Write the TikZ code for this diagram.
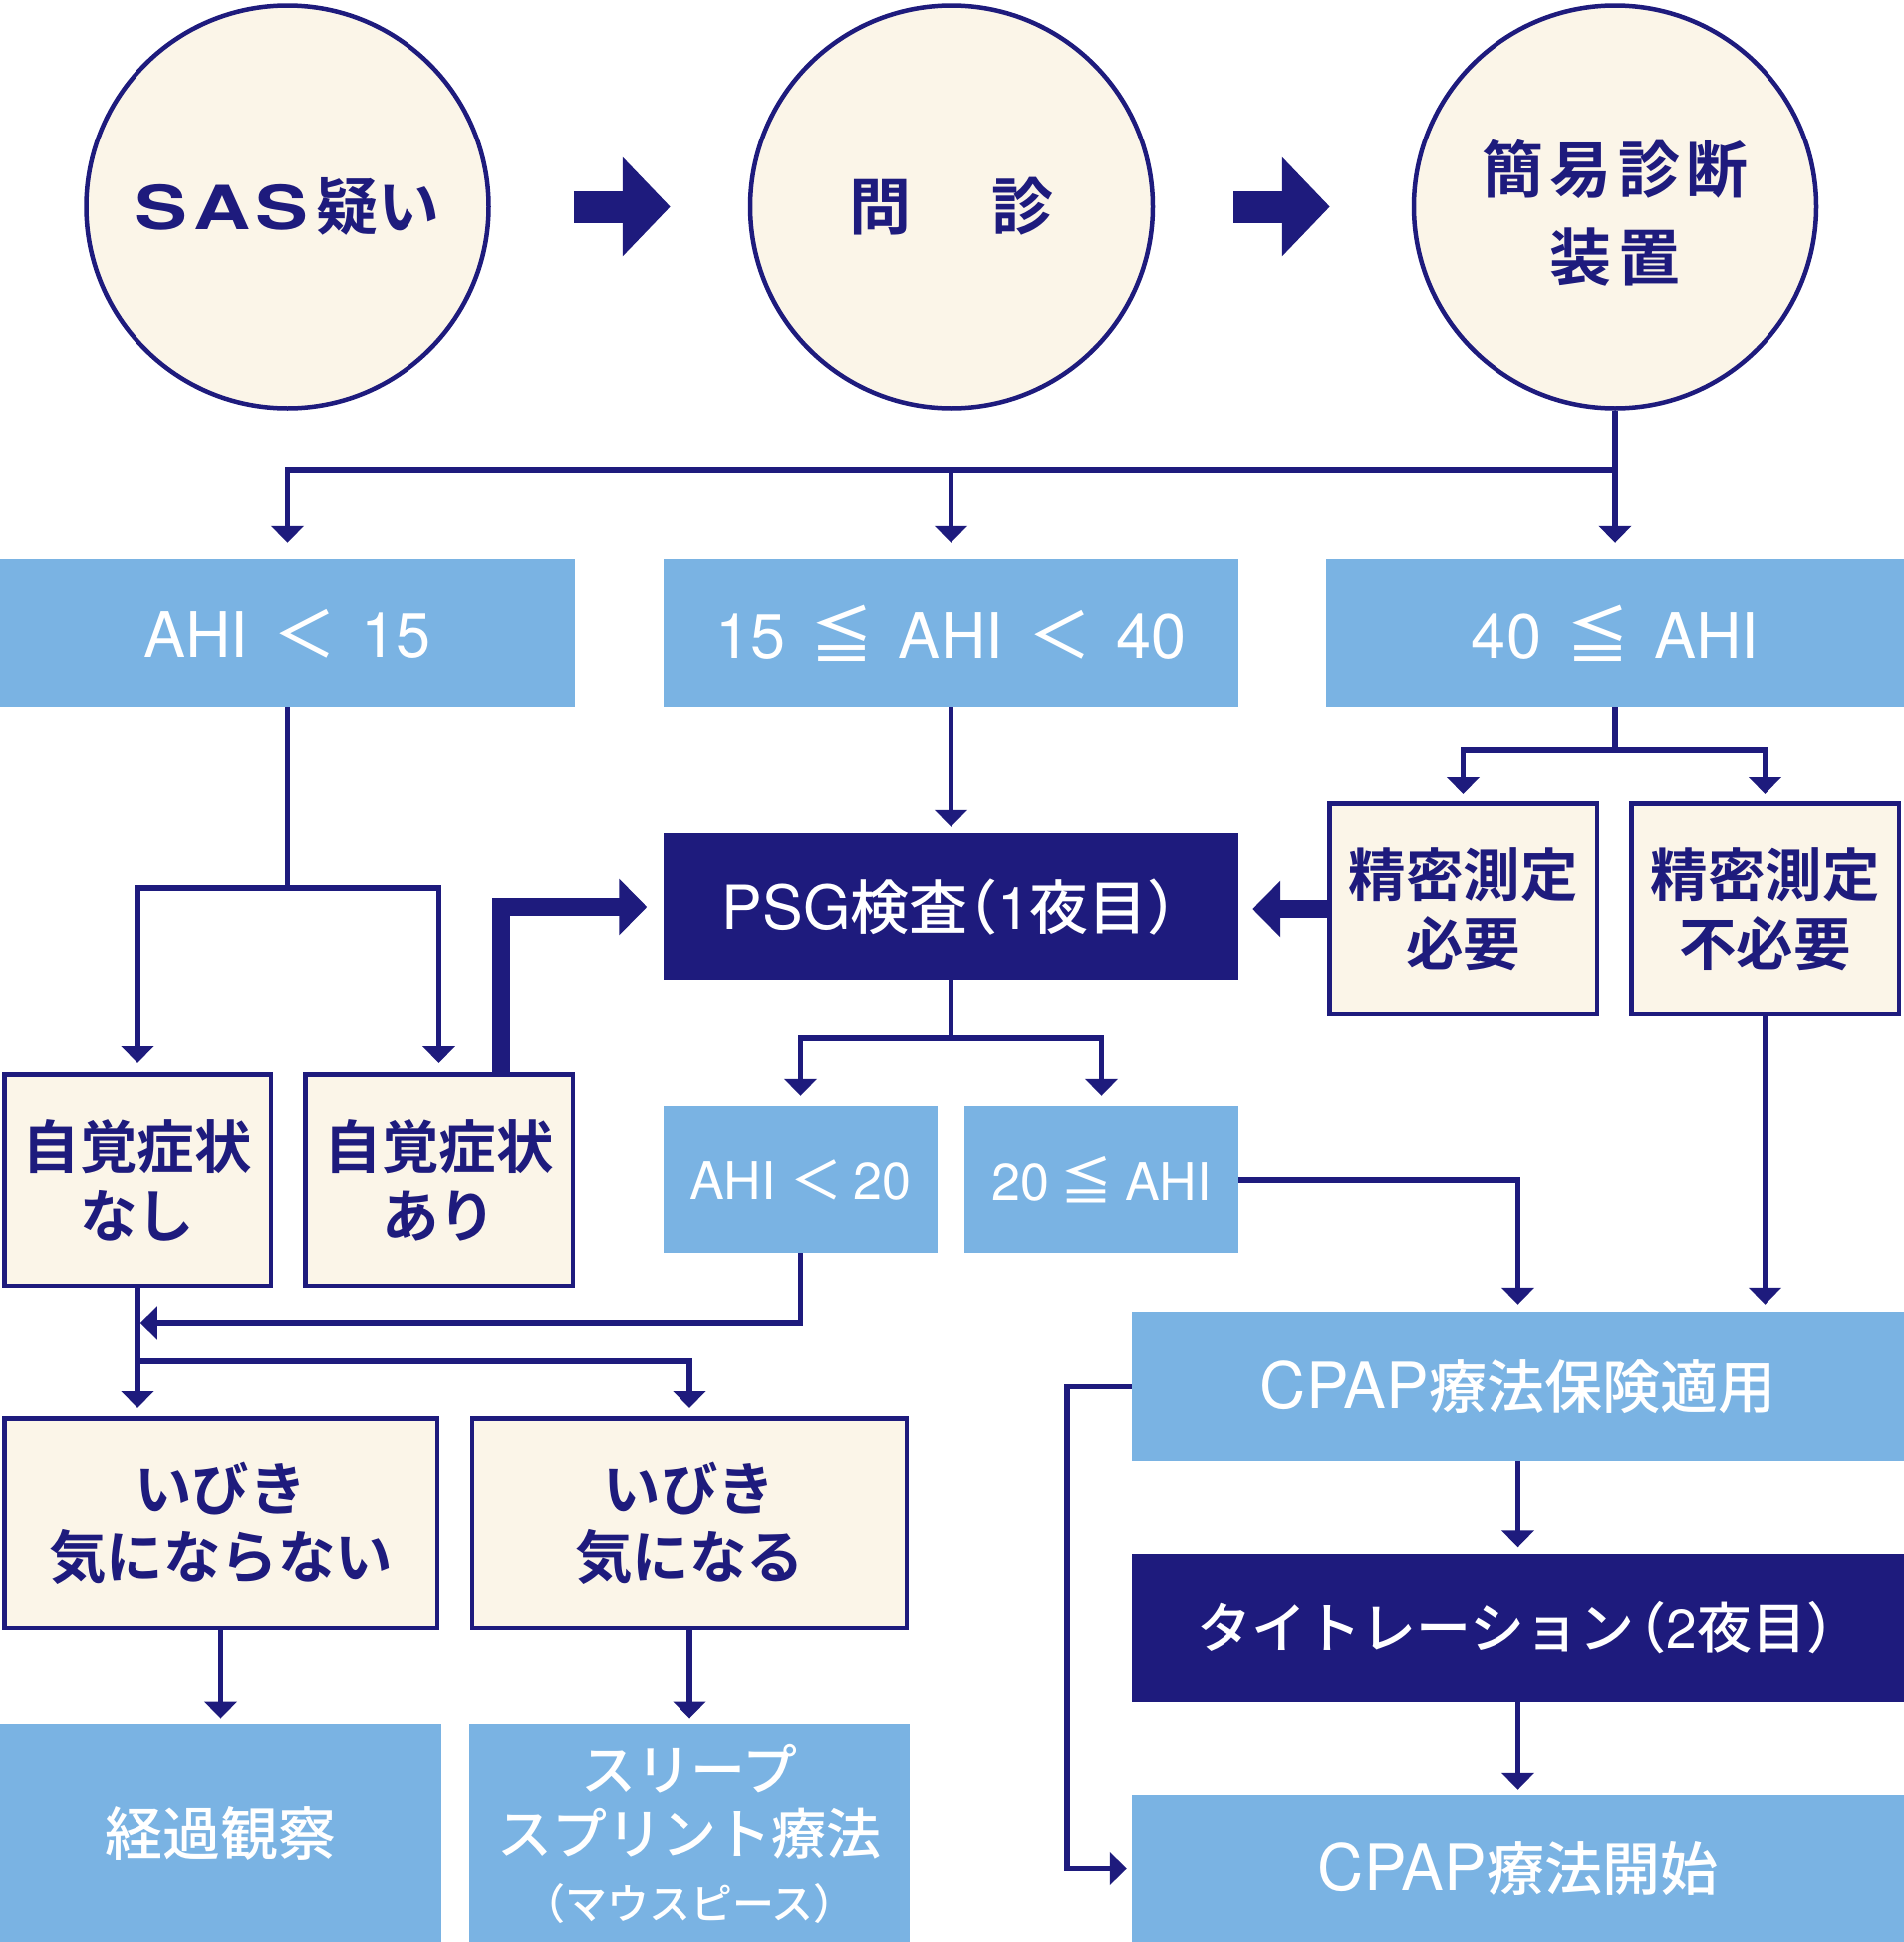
\documentclass[tikz,border=0pt]{standalone}
\usepackage{fontspec}
\setmainfont{Noto Sans CJK JP}[BoldFont={Noto Sans CJK JP Bold}]
\newfontfamily\jpm{Noto Sans CJK JP Medium}
\newfontfamily\heros{TeX Gyre Heros}
\newfontfamily\sasfont{TeX Gyre Heros}[FakeStretch=1.3]
\newcommand\myen[1]{{\heros #1}}
\usetikzlibrary{arrows.meta}
\definecolor{navy}{RGB}{30,27,125}
\definecolor{lblue}{RGB}{122,179,227}
\definecolor{cream}{RGB}{251,245,232}
\begin{document}
\begin{tikzpicture}[x=1pt,y=-1pt,
  conn/.style={draw=navy,line width=5.5pt},
  arr/.style={conn,-{Triangle[length=17pt,width=32pt]}},
  bigarr/.style={draw=navy,line width=18pt,-{Triangle[length=28pt,width=55pt]}},
  blockarr/.style={draw=navy,line width=32pt,-{Triangle[length=48pt,width=97pt]}},
  circ/.style={circle,draw=navy,line width=4.5pt,fill=cream,minimum size=404pt,inner sep=0pt,text=navy,align=center,font=\fontsize{62}{88}\selectfont\bfseries},
  creambox/.style={rectangle,draw=navy,line width=4.5pt,fill=cream,inner sep=0pt,text=navy,align=center,font=\fontsize{57.5}{69}\selectfont\bfseries},
  bluebox/.style={rectangle,fill=lblue,inner sep=0pt,text=white,align=center,font=\fontsize{58}{66}\selectfont\jpm},
  darkbox/.style={rectangle,fill=navy,inner sep=0pt,text=white,align=center,font=\fontsize{55}{64}\selectfont\jpm},
  rowtwo/.style={bluebox,minimum height=149pt,font=\fontsize{63}{66}\selectfont\jpm},
]
\useasboundingbox[fill=white] (0,0) rectangle (1911,1949);

% circles
\node[circ] (c1) at (288.5,207.5) {{\sasfont\fontsize{61}{88}\selectfont S\hspace{6pt}A\hspace{4pt}S}\hspace{8pt}疑い};
\node[circ] (c2) at (955,207.5) {問\hspace{82pt}診};
\node[circ] (c3) at (1621,207.5) {\rule{0pt}{66pt}\addfontfeatures{LetterSpace=10}簡易診断\\\addfontfeatures{LetterSpace=10}装置};

% row 2
\node[rowtwo,minimum width=577pt] (b1) at (288.5,635.5) {\myen{AHI}\hspace{25pt}＜\hspace{25pt}\myen{15}};
\node[rowtwo,minimum width=577pt] (b2) at (954.5,635.5) {\myen{15}\hspace{25pt}≦\hspace{25pt}\myen{AHI}\hspace{25pt}＜\hspace{25pt}\myen{40}};
\node[rowtwo,minimum width=580pt] (b3) at (1621,635.5) {\myen{40}\hspace{25pt}≦\hspace{25pt}\myen{AHI}};

% left branch
\node[creambox,minimum width=267.5pt,minimum height=212.5pt] (n1) at (138,1184.5) {自覚症状\\なし};
\node[creambox,minimum width=268.5pt,minimum height=212.5pt] (n2) at (440.5,1184.5) {自覚症状\\あり};

% PSG
\node[darkbox,minimum width=577pt,minimum height=148pt,font=\fontsize{59}{64}\selectfont\jpm] (psg) at (954.5,910) {{\heros\fontsize{61}{64}\selectfont PSG}検査\hspace{-0.5em}（\myen{1}夜目）\hspace{-0.45em}};

% right branch
\node[creambox,minimum width=268.5pt,minimum height=211.5pt] (m1) at (1468.5,912) {精密測定\\必要};
\node[creambox,minimum width=268.5pt,minimum height=211.5pt] (m2) at (1771.5,912) {精密測定\\不必要};

% PSG results
\node[bluebox,minimum width=275pt,minimum height=148pt,font=\fontsize{52}{60}\selectfont\jpm] (a1) at (803.5,1184) {\myen{AHI}\hspace{15pt}＜\hspace{11pt}\myen{20}};
\node[bluebox,minimum width=275pt,minimum height=148pt,font=\fontsize{52}{60}\selectfont\jpm] (a2) at (1105.5,1184) {\myen{20}\hspace{11pt}≦\hspace{13pt}\myen{AHI}};

% CPAP column
\node[bluebox,minimum width=775pt,minimum height=149pt] (p1) at (1523.5,1391.5) {{\heros\fontsize{64}{66}\selectfont CPAP}療法保険適用};
\node[darkbox,minimum width=775pt,minimum height=148pt] (t) at (1523.5,1634) {タイトレーション\hspace{-0.42em}（\myen{2}夜目）\hspace{-0.42em}};
\node[bluebox,minimum width=775pt,minimum height=149pt] (p2) at (1523.5,1875.5) {{\heros\fontsize{64}{66}\selectfont CPAP}療法開始};

% snoring
\node[creambox,minimum width=434.5pt,minimum height=210.5pt] (g1) at (221.5,1528.5) {いびき\\気にならない};
\node[creambox,minimum width=436pt,minimum height=210.5pt] (g2) at (692,1528.5) {いびき\\気になる};
\node[bluebox,minimum width=443pt,minimum height=219.5pt,font=\fontsize{58}{66}\selectfont\jpm] (e1) at (221.5,1840) {経過観察};
\node[bluebox,minimum width=441.5pt,minimum height=219.5pt,font=\fontsize{55}{65}\selectfont\jpm] (e2) at (692,1840) {スリープ\\スプリント療法\\{\fontsize{42}{50}\selectfont （マウスピース）}};

% connectors
\draw[blockarr,shorten <=83pt,shorten >=78pt] (c1) -- (c2);
\draw[blockarr,shorten <=79pt,shorten >=82pt] (c2) -- (c3);

\coordinate (j1) at (1621,472);
\draw[conn] (c3.south) -- (j1);
\draw[arr,shorten >=16pt] (j1) -- (b3.north);
\draw[arr,shorten >=16pt] (j1) -| (b1.north);
\draw[arr,shorten >=16pt] (j1 -| b2.north) -- (b2.north);

\coordinate (j2) at (288.5,891);
\draw[conn] (b1.south) -- (j2);
\draw[arr,shorten >=9pt] (j2) -| (n1.north);
\draw[arr,shorten >=9pt] (j2) -| (n2.north);

\draw[bigarr,shorten >=16.5pt] ([xshift=62.5pt]n2.north) |- (psg.west);
\draw[arr,shorten >=6pt] (b2.south) -- (psg.north);

\coordinate (j3) at (1621,753);
\draw[conn] (b3.south) -- (j3);
\draw[arr,shorten >=7pt] (j3) -| (m1.north);
\draw[arr,shorten >=7pt] (j3) -| (m2.north);

\draw[bigarr,shorten >=14pt] (m1.west) -- (m1.west -| psg.east);

\coordinate (j4) at (954.5,1042);
\draw[conn] (psg.south) -- (j4);
\draw[arr,shorten >=10pt] (j4) -| (a1.north);
\draw[arr,shorten >=10pt] (j4) -| (a2.north);

\draw[arr,shorten >=7pt] (a2.east) -| (p1.north);
\draw[arr,shorten >=7pt] (m2.south) -- (m2.south |- p1.north);
\draw[arr,shorten >=6.5pt] (p1) -- (t);
\draw[arr,shorten >=5pt] (t) -- (p2);
\draw[arr,shorten >=5pt] (p1.west) -- ++(-65,0) |- (p2.west);

\coordinate (k1) at (140.75,1328);
\draw[arr] (a1.south) |- (k1);
\coordinate (k2) at (138,1366);
\draw[arr,shorten >=8pt] (n1.south) -- (n1.south |- g1.north);
\draw[arr,shorten >=8pt] (k2) -| (g2.north);

\draw[arr,shorten >=5.5pt] (g1) -- (e1);
\draw[arr,shorten >=5.5pt] (g2) -- (e2);
\end{tikzpicture}
\end{document}
